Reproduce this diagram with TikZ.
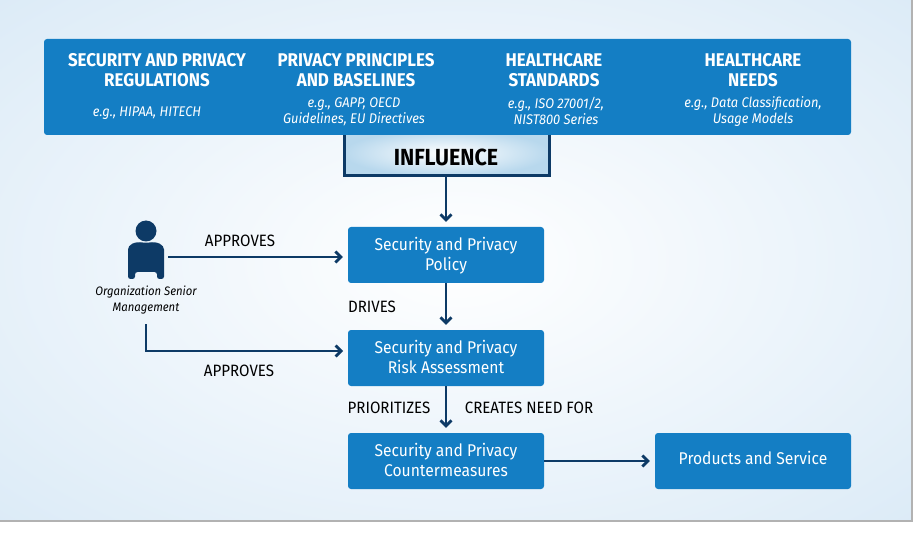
\documentclass[tikz,border=0pt]{standalone}
\usepackage{fontspec}
\setmainfont[FakeStretch=0.92]{Fira Sans}
\usetikzlibrary{arrows.meta}
\definecolor{boxblue}{HTML}{147EC4}
\definecolor{navy}{HTML}{0D3A66}
\definecolor{bgblue}{HTML}{DCEBF7}
\tikzset{
    bluebox/.style={fill=boxblue, rounded corners=3pt, minimum width=196pt, minimum height=56pt,
        text=white, align=center, font=\fontsize{17}{20}\selectfont},
    headtext/.style={text=white, align=center, font=\fontsize{18.4}{20}\selectfont\bfseries},
    subtext/.style={text=white, align=center, font=\fontsize{14}{16}\selectfont\itshape},
    edgetext/.style={text=black, font=\fontsize{16.4}{18}\selectfont},
    flow/.style={navy, line width=2.8pt, -{Straight Barb[length=5.5pt,width=11pt]}, shorten >=5pt},
}
\begin{document}
\begin{tikzpicture}[x=1pt, y=-1pt]
\useasboundingbox (0,0) rectangle (920,534);
\begin{scope}
\clip (0,0) rectangle (912,521);
\shade[inner color=white, outer color=bgblue] (-190,-110) rectangle (1102,631);
\end{scope}
\draw[black!30, line width=1.5pt] (912,0) -- (912,521) -- (0,521);

% influence box goes under the banner
\shade[inner color=white, outer color=boxblue!30!white] (344,130) rectangle (549,176);
\draw[navy, line width=3pt] (344,130) rectangle (549,176);
\node[font=\fontsize{23.3}{26}\selectfont\bfseries, text=black] (influence) at (446,157) {INFLUENCE};
\coordinate (influenceout) at (446,177);
\fill[boxblue, rounded corners=3pt] (44,39) rectangle (851,135);

\node[headtext] (headreg) at (157,70) {SECURITY AND PRIVACY\\REGULATIONS};
\node[headtext] (headpri) at (356,70) {PRIVACY PRINCIPLES\\AND BASELINES};
\node[headtext] (headstd) at (554,70) {HEALTHCARE\\STANDARDS};
\node[headtext] (headneed) at (753,70) {HEALTHCARE\\NEEDS};
\node[subtext] (subreg) at (147,113) {e.g., HIPAA, HITECH};
\node[subtext] (subpri) at (354,111.5) {e.g., GAPP, OECD\\Guidelines, EU Directives};
\node[subtext] (substd) at (556,111) {e.g., ISO 27001/2,\\NIST800 Series};
\node[subtext] (subneed) at (753,111.5) {e.g., Data Classification,\\Usage Models};

% main column
\node[bluebox] (policy) at (446,255) {\rule{0pt}{15pt}Security and Privacy\\Policy};
\node[bluebox] (risk) at (446,358) {Security and Privacy\\Risk Assessment\rule[-2pt]{0pt}{2pt}};
\node[bluebox] (counter) at (446,461) {Security and Privacy\\Countermeasures\rule[-2pt]{0pt}{2pt}};
\node[bluebox] (products) at (753,461) {\raisebox{6pt}{Products and Service}};

% person
\fill[navy] (146,231) circle (10.5);
\fill[navy, rounded corners=2.5pt] (128,279) -- (128,252)
    .. controls (128,245) and (134,241) .. (146,243)
    .. controls (158,241) and (164,245) .. (164,252)
    -- (164,279) -- (157,279) -- (157,272) -- (135,272) -- (135,279) -- cycle;
\coordinate (person) at (168,257);
\node[text=black, align=center, inner sep=0pt, font=\fontsize{12.3}{15.5}\selectfont\itshape]
    (mgmt) at (146,300) {Organization Senior\\Management};
\coordinate (mgmtout) at (146,324);
\coordinate (riskin) at (348,351);

\draw[flow] (influenceout) -- (influenceout |- policy.north);
\draw[flow] (policy) -- (risk);
\draw[flow] (risk) -- (counter);
\draw[flow] (person) -- (policy.west |- person);
\draw[flow] (mgmtout) |- (riskin);
\draw[flow] (counter) -- (products);

\node[edgetext] (approvesa) at (240,240.5) {APPROVES};
\node[edgetext] (approvesb) at (239,370.5) {APPROVES};
\node[edgetext] (drives) at (372,306.5) {DRIVES};
\node[edgetext] (prioritizes) at (389,407.5) {PRIORITIZES};
\node[edgetext] (creates) at (529,407.5) {CREATES NEED FOR};
\end{tikzpicture}
\end{document}
